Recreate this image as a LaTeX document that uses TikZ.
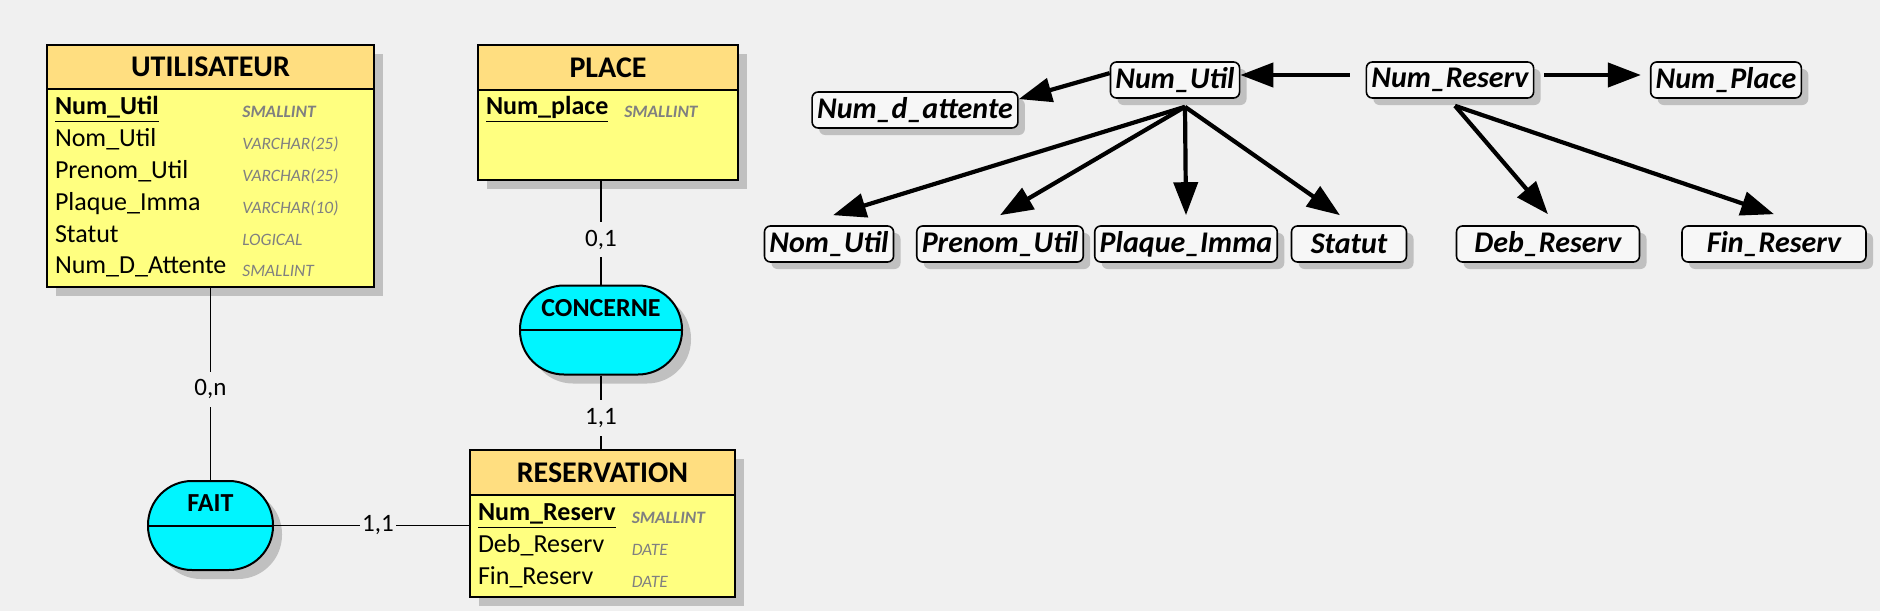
\documentclass[tikz,border=0pt]{standalone}
\usepackage{fontspec}
\setmainfont{Carlito}
\usetikzlibrary{positioning, shadows, arrows.meta}

\definecolor{bgcolor}{RGB}{240,240,240}
\definecolor{headfill}{RGB}{255,222,128}
\definecolor{bodyfill}{RGB}{255,255,128}
\definecolor{assocfill}{RGB}{0,245,255}
\definecolor{fdfill}{RGB}{247,247,247}
\definecolor{typegray}{RGB}{128,128,128}
\definecolor{shadowgray}{RGB}{192,192,192}

\newcommand{\attrtype}[1]{\raisebox{-1.5pt}{\fontsize{8.7}{10}\selectfont\itshape\color{typegray}#1}}

\begin{document}
\begin{tikzpicture}[x=0.5pt, y=-0.5pt]
    % Define styles
    \tikzset{
        mcdshadow/.style={drop shadow={shadow xshift=4.5pt, shadow yshift=-4.5pt, fill=shadowgray, opacity=1}},
        entityhead/.style={draw, line width=1pt, outer sep=0pt, fill=headfill, mcdshadow, inner sep=0pt, font=\fontsize{15}{17}\selectfont\bfseries},
        entitybody/.style={draw, line width=1pt, outer sep=0pt, fill=bodyfill, mcdshadow, inner xsep=4pt, inner ysep=0pt, align=left, font=\fontsize{13}{15.9}\selectfont},
        assoc/.style={draw, line width=1pt, fill=assocfill, mcdshadow, rounded corners=22pt, minimum height=44.5pt},
        assoctitle/.style={inner sep=0pt, font=\fontsize{13}{15}\selectfont\bfseries},
        mcdlink/.style={line width=0.6pt},
        card/.style={fill=bgcolor, inner xsep=1pt, inner ysep=4pt, font=\fontsize{12.5}{15}\selectfont},
        fdnode/.style={draw, line width=0.8pt, fill=fdfill, rounded corners=3pt, minimum height=18pt, inner xsep=2.5pt, inner ysep=0pt,
            drop shadow={shadow xshift=3.5pt, shadow yshift=-3.5pt, fill=shadowgray, opacity=1}, font=\fontsize{15}{18}\selectfont\bfseries\itshape},
        fdarrow/.style={line width=2.1pt, -{Triangle[length=16.5pt, width=12pt]}}
    }

    % Background
    \path[use as bounding box, fill=bgcolor] (0,0) rectangle (1880,611);

    % Entities
    \node[entityhead, minimum width=163.5pt, minimum height=22pt] (utilisateur) at (210.5,67) {UTILISATEUR};
    \node[entitybody, text width=155.5pt, minimum height=99pt, below=0pt of utilisateur] (utilisateur-attr) {%
        \begin{tabular}{@{}l@{\hspace{8pt}}l@{}}
            \textbf{\underline{Num\_Util}} & \attrtype{\bfseries SMALLINT}\\
            Nom\_Util & \attrtype{VARCHAR(25)}\\
            Prenom\_Util & \attrtype{VARCHAR(25)}\\
            Plaque\_Imma & \attrtype{VARCHAR(10)}\\
            Statut & \attrtype{LOGICAL}\\
            Num\_D\_Attente & \attrtype{SMALLINT}
        \end{tabular}};

    \node[entityhead, minimum width=130pt, minimum height=22.5pt] (place) at (608,67.5) {PLACE};
    \node[entitybody, text width=122pt, minimum height=45pt, below=0pt of place] (place-attr) {%
        \begin{tabular}{@{}l@{\hspace{8pt}}l@{}}
            \textbf{\underline{Num\_place}} & \attrtype{\bfseries SMALLINT}\\[27pt]
        \end{tabular}};

    \node[entityhead, minimum width=132.5pt, minimum height=22.5pt] (reservation) at (602.5,472.5) {RESERVATION};
    \node[entitybody, text width=124.5pt, minimum height=51pt, below=0pt of reservation] (reservation-attr) {%
        \begin{tabular}{@{}l@{\hspace{8pt}}l@{}}
            \textbf{\underline{Num\_Reserv}} & \attrtype{\bfseries SMALLINT}\\
            Deb\_Reserv & \attrtype{DATE}\\
            Fin\_Reserv & \attrtype{DATE}
        \end{tabular}};

    % Associations
    \node[assoc, minimum width=62.5pt] (fait) at (210.5,525.5) {};
    \node[assoctitle] (fait-title) at ([yshift=11pt]fait.center) {FAIT};
    \draw[line width=1pt] (fait.west) -- (fait.east);

    \node[assoc, minimum width=81pt] (concerne) at (601,330) {};
    \node[assoctitle] (concerne-title) at ([yshift=11pt]concerne.center) {CONCERNE};
    \draw[line width=1pt] (concerne.west) -- (concerne.east);

    % Links with cardinalities
    \draw[mcdlink] (utilisateur-attr.south) -- node[card, pos=0.53] (card-util) {0,n} (fait.north);
    \draw[mcdlink] (concerne.north |- place-attr.south) -- node[card, pos=0.57] (card-place) {0,1} (concerne.north);
    \draw[mcdlink] (concerne.south) -- node[card, pos=0.57] (card-concerne) {1,1} (concerne.south |- reservation.north);
    \draw[mcdlink] (fait.east) -- node[card, pos=0.53] (card-fait) {1,1} (fait.east -| reservation-attr.west);

    % Functional dependencies
    \node[fdnode] (num-d-attente) at (915,110) {Num\_d\_attente};
    \node[fdnode] (num-util) at (1175,80) {Num\_Util};
    \node[fdnode] (num-reserv) at (1450,80) {Num\_Reserv};
    \node[fdnode] (num-place) at (1726,80) {Num\_Place};
    \node[fdnode] (nom-util) at (829,244) {Nom\_Util};
    \node[fdnode] (prenom-util) at (1000,244) {Prenom\_Util};
    \node[fdnode] (plaque-imma) at (1186,244) {Plaque\_Imma};
    \node[fdnode, minimum width=57.5pt] (statut) at (1349,244) {Statut};
    \node[fdnode, minimum width=91.5pt] (deb-reserv) at (1548,244) {Deb\_Reserv};
    \node[fdnode, minimum width=92pt] (fin-reserv) at (1774,244) {Fin\_Reserv};

    \draw[fdarrow, shorten <=8pt] ([yshift=2.5pt]num-reserv.west) -- ([yshift=2.5pt]num-util.east);
    \draw[fdarrow, shorten <=5pt, shorten >=4.5pt] ([yshift=2.5pt]num-reserv.east) -- ([yshift=2.5pt]num-place.west);
    \draw[fdarrow] (num-util.174) -- (num-d-attente.6);

    \coordinate (util-fd) at ([xshift=5pt, yshift=-4pt]num-util.south);
    \coordinate (reserv-fd) at ([xshift=2.5pt, yshift=-3.5pt]num-reserv.south);
    \foreach \target/\shift in {nom-util/2pt, prenom-util/0pt, plaque-imma/0pt, statut/-4.5pt}
        \draw[fdarrow] (util-fd) -- ([xshift=\shift, yshift=5pt]\target.north);
    \foreach \target in {deb-reserv, fin-reserv}
        \draw[fdarrow] (reserv-fd) -- ([yshift=5.5pt]\target.north);

\end{tikzpicture}
\end{document}
